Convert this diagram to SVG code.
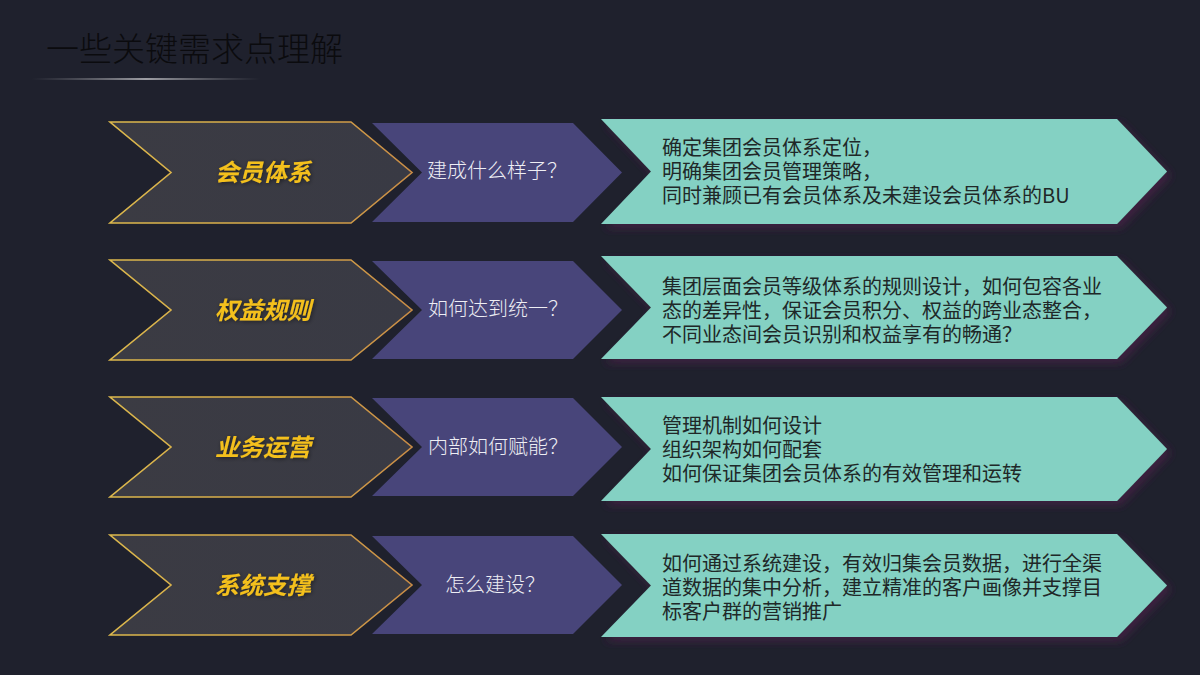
<svg xmlns="http://www.w3.org/2000/svg" width="1200" height="675" viewBox="0 0 1200 675">
  <defs>
    <linearGradient id="goldStroke" x1="0" y1="0" x2="1" y2="0">
      <stop offset="0" stop-color="#dcb84c"/>
      <stop offset="0.6" stop-color="#d6a848"/>
      <stop offset="1" stop-color="#c98c46"/>
    </linearGradient>
    <linearGradient id="grayFill" x1="0" y1="0" x2="1" y2="0">
      <stop offset="0" stop-color="#3b3b43"/>
      <stop offset="1" stop-color="#393a44"/>
    </linearGradient>
    <linearGradient id="rule" x1="32" y1="0" x2="260" y2="0" gradientUnits="userSpaceOnUse">
      <stop offset="0" stop-color="#9a9aa0" stop-opacity="0"/>
      <stop offset="0.5" stop-color="#c8c8cc" stop-opacity="1"/>
      <stop offset="1" stop-color="#9a9aa0" stop-opacity="0"/>
    </linearGradient>
    <filter id="tealShadow" x="-5%" y="-15%" width="115%" height="140%">
      <feGaussianBlur in="SourceAlpha" stdDeviation="4"/>
      <feOffset dx="4" dy="4" result="b"/>
      <feFlood flood-color="#4a2048" flood-opacity="0.75"/>
      <feComposite in2="b" operator="in"/>
      <feMerge><feMergeNode/><feMergeNode in="SourceGraphic"/></feMerge>
    </filter>
    <filter id="glow" x="-10%" y="-30%" width="120%" height="160%">
      <feGaussianBlur in="SourceAlpha" stdDeviation="2"/>
      <feOffset dx="1" dy="1" result="b"/>
      <feFlood flood-color="#000" flood-opacity="0.5"/>
      <feComposite in2="b" operator="in"/>
      <feMerge><feMergeNode/><feMergeNode in="SourceGraphic"/></feMerge>
    </filter>
  </defs>
  <style>
    .gray { fill: url(#grayFill); stroke: url(#goldStroke); stroke-width: 1.6; stroke-linejoin: miter; }
    .purple { fill: #48457a; }
    .teal { fill: #84d1c3; filter: url(#tealShadow); }
    .label { font-family: "Noto Sans CJK SC", "Liberation Sans", sans-serif; font-size: 24px; font-weight: bold; font-style: italic; fill: #f4c01c; text-anchor: middle; filter: url(#glow); }
    .q { font-family: "Noto Sans CJK SC", "Liberation Sans", sans-serif; font-size: 20px; font-weight: 300; fill: #eeeef4; text-anchor: middle; }
    .desc { font-family: "Noto Sans CJK SC", "Liberation Sans", sans-serif; font-size: 20px; fill: #202828; }
    .title { font-family: "Noto Sans CJK SC", "Liberation Sans", sans-serif; font-size: 33px; font-weight: 300; fill: #0b0b0e; }
  </style>

  <rect x="0" y="0" width="1200" height="675" fill="#1f212d"/>

  <g id="title">
    <text class="title" x="46" y="61">一些关键需求点理解</text>
    <line x1="32" y1="79" x2="260" y2="79" stroke="url(#rule)" stroke-width="1.6"/>
  </g>

  <g id="connectors"/>

  <!-- Row 1 -->
  <g id="row1-label">
    <polygon class="gray" points="110,122 351,122 412,172.5 351,223 110,223 171,172.5"/>
    <text class="label" x="263" y="181">会员体系</text>
  </g>
  <g id="row1-question">
    <polygon class="purple" points="372,123 573,123 622,172.5 573,222 372,222 422,172.5"/>
    <text class="q" x="497" y="178">建成什么样子？</text>
  </g>
  <g id="row1-detail">
    <polygon class="teal" points="601,119 1117,119 1167,171.5 1117,224 601,224 651,171.5"/>
    <text class="desc" x="662" y="155"><tspan x="662" y="155">确定集团会员体系定位，</tspan><tspan x="662" y="179">明确集团会员管理策略，</tspan><tspan x="662" y="203">同时兼顾已有会员体系及未建设会员体系的BU</tspan></text>
  </g>

  <!-- Row 2 -->
  <g id="row2-label">
    <polygon class="gray" points="110,260 351,260 412,310 351,360 110,360 171,310"/>
    <text class="label" x="263" y="319">权益规则</text>
  </g>
  <g id="row2-question">
    <polygon class="purple" points="372,261 573,261 622,310 573,359 372,359 422,310"/>
    <text class="q" x="498" y="316">如何达到统一？</text>
  </g>
  <g id="row2-detail">
    <polygon class="teal" points="601,256 1117,256 1167,307.5 1117,359 601,359 651,307.5"/>
    <text class="desc" x="662" y="294"><tspan x="662" y="294">集团层面会员等级体系的规则设计，如何包容各业</tspan><tspan x="662" y="318">态的差异性，保证会员积分、权益的跨业态整合，</tspan><tspan x="662" y="342">不同业态间会员识别和权益享有的畅通？</tspan></text>
  </g>

  <!-- Row 3 -->
  <g id="row3-label">
    <polygon class="gray" points="110,397 351,397 412,447 351,497 110,497 171,447"/>
    <text class="label" x="263" y="456">业务运营</text>
  </g>
  <g id="row3-question">
    <polygon class="purple" points="372,398 573,398 622,447 573,496 372,496 422,447"/>
    <text class="q" x="498" y="454">内部如何赋能？</text>
  </g>
  <g id="row3-detail">
    <polygon class="teal" points="601,397 1117,397 1167,449 1117,501 601,501 651,449"/>
    <text class="desc" x="662" y="433"><tspan x="662" y="433">管理机制如何设计</tspan><tspan x="662" y="457">组织架构如何配套</tspan><tspan x="662" y="481">如何保证集团会员体系的有效管理和运转</tspan></text>
  </g>

  <!-- Row 4 -->
  <g id="row4-label">
    <polygon class="gray" points="110,535 351,535 412,585 351,635 110,635 171,585"/>
    <text class="label" x="263" y="594">系统支撑</text>
  </g>
  <g id="row4-question">
    <polygon class="purple" points="372,536 573,536 622,585 573,634 372,634 422,585"/>
    <text class="q" x="495" y="592">怎么建设？</text>
  </g>
  <g id="row4-detail">
    <polygon class="teal" points="601,534 1117,534 1167,585.5 1117,637 601,637 651,585.5"/>
    <text class="desc" x="662" y="571"><tspan x="662" y="571">如何通过系统建设，有效归集会员数据，进行全渠</tspan><tspan x="662" y="595">道数据的集中分析，建立精准的客户画像并支撑目</tspan><tspan x="662" y="619">标客户群的营销推广</tspan></text>
  </g>
</svg>
